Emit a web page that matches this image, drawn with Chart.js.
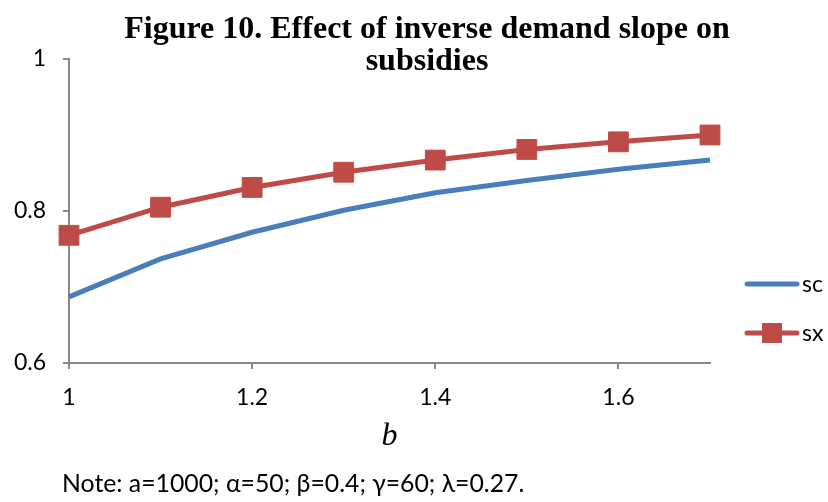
<!DOCTYPE html>
<html>
<head>
<meta charset="utf-8">
<script src="https://cdn.jsdelivr.net/npm/chart.js@4.4.0/dist/chart.umd.min.js"></script>
<style>
  html, body { margin: 0; padding: 0; background: #fff; }
  #wrap { position: relative; width: 828px; height: 502px; }
  #title {
    position: absolute; left: 0; top: 11px; width: 854px;
    text-align: center; font-family: "Liberation Serif", "Times New Roman", serif;
    font-weight: bold; font-size: 32px; line-height: 32px; color: #000;
    pointer-events: none;
  }
  #note {
    position: absolute; left: 62px; top: 468px;
    font-family: Lato, "Open Sans", sans-serif; font-size: 24.8px; line-height: 30px; color: #000;
    white-space: nowrap;
  }
</style>
</head>
<body>
<div id="wrap">
  <canvas id="chart" width="828" height="502"></canvas>
  <div id="title">Figure 10. Effect of inverse demand slope on<br>subsidies</div>
  <div id="note">Note: a=1000; &alpha;=50; &beta;=0.4; &gamma;=60; &lambda;=0.27.</div>
</div>
<script>
// b values on the x axis
var bValues = [1, 1.1, 1.2, 1.3, 1.4, 1.5, 1.6, 1.7];
var sc = [0.687, 0.737, 0.772, 0.801, 0.824, 0.840, 0.855, 0.867];
var sx = [0.768, 0.805, 0.831, 0.851, 0.867, 0.881, 0.891, 0.900];
var seriesNames = ["sc", "sx"];

function toPoints(vals) {
    var pts = [];
    for (var i = 0; i < bValues.length; i++) {
        pts.push({x: bValues[i], y: vals[i]});
    }
    return pts;
}

var tickFont = {family: "Lato, 'Open Sans', sans-serif", size: 23};
var axisColor = "#888888";

// legend drawn by hand so the sx entry shows line + square marker
var sideLegend = {
    id: "sideLegend",
    afterDraw: function(chart) {
        var ctx = chart.ctx;
        var rows = [284, 333];
        chart.data.datasets.forEach(function(ds, i) {
            var y = rows[i];
            ctx.save();
            ctx.strokeStyle = ds.borderColor;
            ctx.lineWidth = 5;
            ctx.lineCap = "round";
            ctx.beginPath();
            ctx.moveTo(747, y);
            ctx.lineTo(797, y);
            ctx.stroke();
            if (ds.pointRadius > 0) {
                ctx.fillStyle = ds.pointBackgroundColor;
                ctx.fillRect(762, y - 10, 20, 20);
            }
            ctx.fillStyle = "#000";
            ctx.font = "23px Lato, 'Open Sans', sans-serif";
            ctx.textBaseline = "middle";
            ctx.fillText(ds.label, 802, y + 1);
            ctx.restore();
        });
    }
};

var chart = new Chart(document.getElementById("chart"), {
    type: "line",
    data: {
        datasets: [
            {
                label: seriesNames[0],
                data: toPoints(sc),
                borderColor: "#4A7EBB",
                backgroundColor: "#4A7EBB",
                borderWidth: 5,
                pointRadius: 0,
                tension: 0,
                clip: false
            },
            {
                label: seriesNames[1],
                data: toPoints(sx),
                borderColor: "#BE4B48",
                backgroundColor: "#BE4B48",
                pointBackgroundColor: "#BE4B48",
                pointBorderColor: "#BE4B48",
                borderWidth: 5,
                pointStyle: "rect",
                pointRadius: 14,
                pointBorderWidth: 1,
                tension: 0,
                clip: false
            }
        ]
    },
    options: {
        responsive: false,
        animation: false,
        events: [],
        layout: {padding: {left: 0, top: 59, right: 118, bottom: 0}},
        plugins: {
            legend: {display: false},
            tooltip: {enabled: false}
        },
        scales: {
            x: {
                type: "linear",
                min: 1,
                max: 1.7,
                afterFit: function(s) { s.height = 139; },
                ticks: {
                    stepSize: 0.2,
                    includeBounds: false,
                    font: tickFont,
                    color: "#000",
                    padding: 15,
                    callback: function(v) { return +v.toFixed(1); }
                },
                grid: {drawOnChartArea: false, drawTicks: true, tickLength: 6, color: axisColor, lineWidth: 2},
                border: {color: axisColor, width: 2},
                title: {
                    display: true,
                    text: "b",
                    color: "#000",
                    font: {family: "'Liberation Serif', serif", size: 32, style: "italic"},
                    padding: {top: 0, bottom: 46}
                }
            },
            y: {
                min: 0.6,
                max: 1,
                afterFit: function(s) { s.width = 69; },
                ticks: {
                    stepSize: 0.2,
                    font: tickFont,
                    color: "#000",
                    padding: 17,
                    callback: function(v) { return +v.toFixed(1); }
                },
                grid: {drawOnChartArea: false, drawTicks: true, tickLength: 6, color: axisColor, lineWidth: 2},
                border: {color: axisColor, width: 2}
            }
        }
    },
    plugins: [sideLegend]
});
</script>
</body>
</html>
